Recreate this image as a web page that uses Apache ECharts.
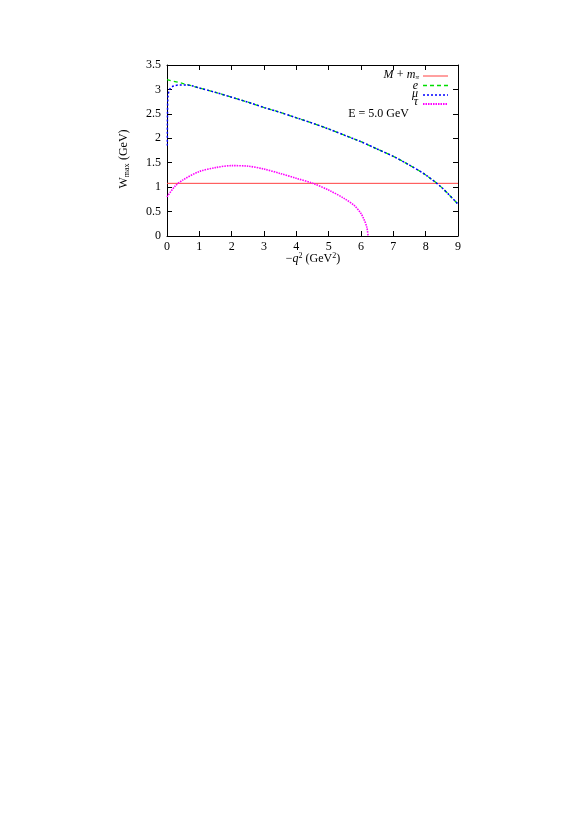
<!DOCTYPE html>
<html><head><meta charset="utf-8">
<script src="https://cdn.jsdelivr.net/npm/echarts@6/dist/echarts.min.js"></script>
<style>html,body{margin:0;padding:0;background:#fff}#c{width:579px;height:819px}</style>
</head><body><div id="c"></div>
<script>
// q^2 values and W_max values
const thresholdX = [0, 9];
const thresholdW = [1.078, 1.078];

const eQ2 = [0, 0.5, 1, 1.5, 2, 2.5, 3, 3.5, 4, 4.5, 5, 5.5, 6, 6.5, 7, 7.5, 8, 8.5, 9];
const eW  = [3.20, 3.12, 3.03, 2.94, 2.84, 2.74, 2.63, 2.53, 2.42, 2.31, 2.19, 2.06, 1.93, 1.78, 1.63, 1.45, 1.25, 0.99, 0.65];

const muQ2 = [0.01, 0.015, 0.03, 0.08, 0.2, 0.4, 0.6, 0.8, 1, 1.5, 2, 2.5, 3, 3.5, 4, 4.5, 5, 5.5, 6, 6.5, 7, 7.5, 8, 8.5, 9];
const muW  = [1.85, 2.5, 2.85, 3.0, 3.07, 3.09, 3.09, 3.07, 3.03, 2.94, 2.84, 2.74, 2.63, 2.53, 2.42, 2.31, 2.19, 2.06, 1.93, 1.78, 1.63, 1.45, 1.25, 0.99, 0.65];

const tauQ2 = [0, 0.25, 0.5, 1, 1.5, 2, 2.5, 3, 3.5, 4, 4.5, 5, 5.5, 5.8, 6, 6.1, 6.18, 6.22];
const tauW  = [0.80, 1.02, 1.15, 1.32, 1.40, 1.44, 1.43, 1.37, 1.28, 1.18, 1.08, 0.94, 0.76, 0.62, 0.46, 0.33, 0.18, 0.0];

const xTicks = [0, 1, 2, 3, 4, 5, 6, 7, 8, 9];
const yTicks = [0, 0.5, 1, 1.5, 2, 2.5, 3, 3.5];

const zip = (a, b) => a.map((v, i) => [v, b[i]]);
const FONT = 'Liberation Serif';

const chart = echarts.init(document.getElementById('c'));
const G = {left: 167, right: 121, top: 65, bottom: 583};
const axisCommon = {
  axisLine: {show: true, onZero: false, lineStyle: {color: '#000', width: 1}},
  axisTick: {show: true, inside: true, length: 5, lineStyle: {color: '#000', width: 1}},
  splitLine: {show: false}
};
chart.setOption({
  animation: false,
  grid: Object.assign({containLabel: false}, G),
  xAxis: [
    Object.assign({type: 'value', min: xTicks[0], max: xTicks[xTicks.length - 1], interval: 1, position: 'bottom',
      axisLabel: {color: '#000', fontFamily: FONT, fontSize: 12, margin: 5}}, axisCommon),
    Object.assign({type: 'value', min: xTicks[0], max: xTicks[xTicks.length - 1], interval: 1, position: 'top',
      axisLabel: {show: false}}, axisCommon)
  ],
  yAxis: [
    Object.assign({type: 'value', min: yTicks[0], max: yTicks[yTicks.length - 1], interval: 0.5, position: 'left',
      axisLabel: {color: '#000', fontFamily: FONT, fontSize: 12, margin: 6}}, axisCommon),
    Object.assign({type: 'value', min: yTicks[0], max: yTicks[yTicks.length - 1], interval: 0.5, position: 'right',
      axisLabel: {show: false}}, axisCommon)
  ],
  series: [
    {type: 'line', name: 'thr', data: zip(thresholdX, thresholdW), showSymbol: false, symbol: 'none',
      lineStyle: {color: '#ff4040', width: 1}},
    {type: 'line', name: 'e', data: zip(eQ2, eW), showSymbol: false, symbol: 'none', smooth: 0.3,
      lineStyle: {color: '#00dd00', width: 1.3, type: [4, 3]}},
    {type: 'line', name: 'mu', data: zip(muQ2, muW), showSymbol: false, symbol: 'none', smooth: 0.3,
      lineStyle: {color: '#0000ff', width: 1.5, type: [2, 2]}},
    {type: 'line', name: 'tau', data: zip(tauQ2, tauW), showSymbol: false, symbol: 'none', smooth: 0.3,
      lineStyle: {color: '#ff00ff', width: 1.6, type: [1.5, 1]}}
  ],
  graphic: [
    // y-axis title
    {type: 'text', x: 124, y: 159, rotation: Math.PI / 2, style: {
      text: '{n|W}{s|max} {n|(GeV)}', fill: '#000', align: 'center', verticalAlign: 'middle',
      rich: {n: {fontFamily: FONT, fontSize: 12}, s: {fontFamily: FONT, fontSize: 8, padding: [6, 0, 0, 0]}}}},
    // x-axis title
    {type: 'text', x: 313, y: 259, style: {
      text: '{n|−}{i|q}{p|2}{n| (GeV}{p|2}{n|)}', fill: '#000', align: 'center', verticalAlign: 'middle',
      rich: {n: {fontFamily: FONT, fontSize: 12}, i: {fontFamily: FONT, fontSize: 12, fontStyle: 'italic'},
        p: {fontFamily: FONT, fontSize: 8, padding: [0, 0, 6, 0]}}}},
    // legend texts
    {type: 'text', x: 419, y: 75, style: {text: '{i|M} {n|+} {i|m}{s|π}', align: 'right', verticalAlign: 'middle',
      rich: {n: {fontFamily: FONT, fontSize: 12}, i: {fontFamily: FONT, fontSize: 12, fontStyle: 'italic'},
        s: {fontFamily: FONT, fontSize: 7, fontStyle: 'italic', padding: [5, 0, 0, 0]}}}},
    {type: 'text', x: 418, y: 85.5, style: {text: 'e', align: 'right', verticalAlign: 'middle', font: 'italic 12px "Liberation Serif"', fill: '#000'}},
    {type: 'text', x: 418, y: 93.5, style: {text: 'μ', align: 'right', verticalAlign: 'middle', font: 'italic 12px "Liberation Serif"', fill: '#000'}},
    {type: 'text', x: 418, y: 101.5, style: {text: 'τ', align: 'right', verticalAlign: 'middle', font: 'italic 12px "Liberation Serif"', fill: '#000'}},
    {type: 'text', x: 409, y: 114, style: {text: 'E = 5.0 GeV', align: 'right', verticalAlign: 'middle', font: '12px "Liberation Serif"', fill: '#000'}},
    // legend line samples
    {type: 'line', shape: {x1: 423, y1: 76, x2: 448, y2: 76}, style: {stroke: '#ff4040', lineWidth: 1}},
    {type: 'line', shape: {x1: 423, y1: 85.5, x2: 448, y2: 85.5}, style: {stroke: '#00dd00', lineWidth: 1.3, lineDash: [4, 3]}},
    {type: 'line', shape: {x1: 423, y1: 95, x2: 448, y2: 95}, style: {stroke: '#0000ff', lineWidth: 1.5, lineDash: [2, 2]}},
    {type: 'line', shape: {x1: 423, y1: 104, x2: 448, y2: 104}, style: {stroke: '#ff00ff', lineWidth: 2, lineDash: [1.5, 1]}}
  ]
});
</script></body></html>
